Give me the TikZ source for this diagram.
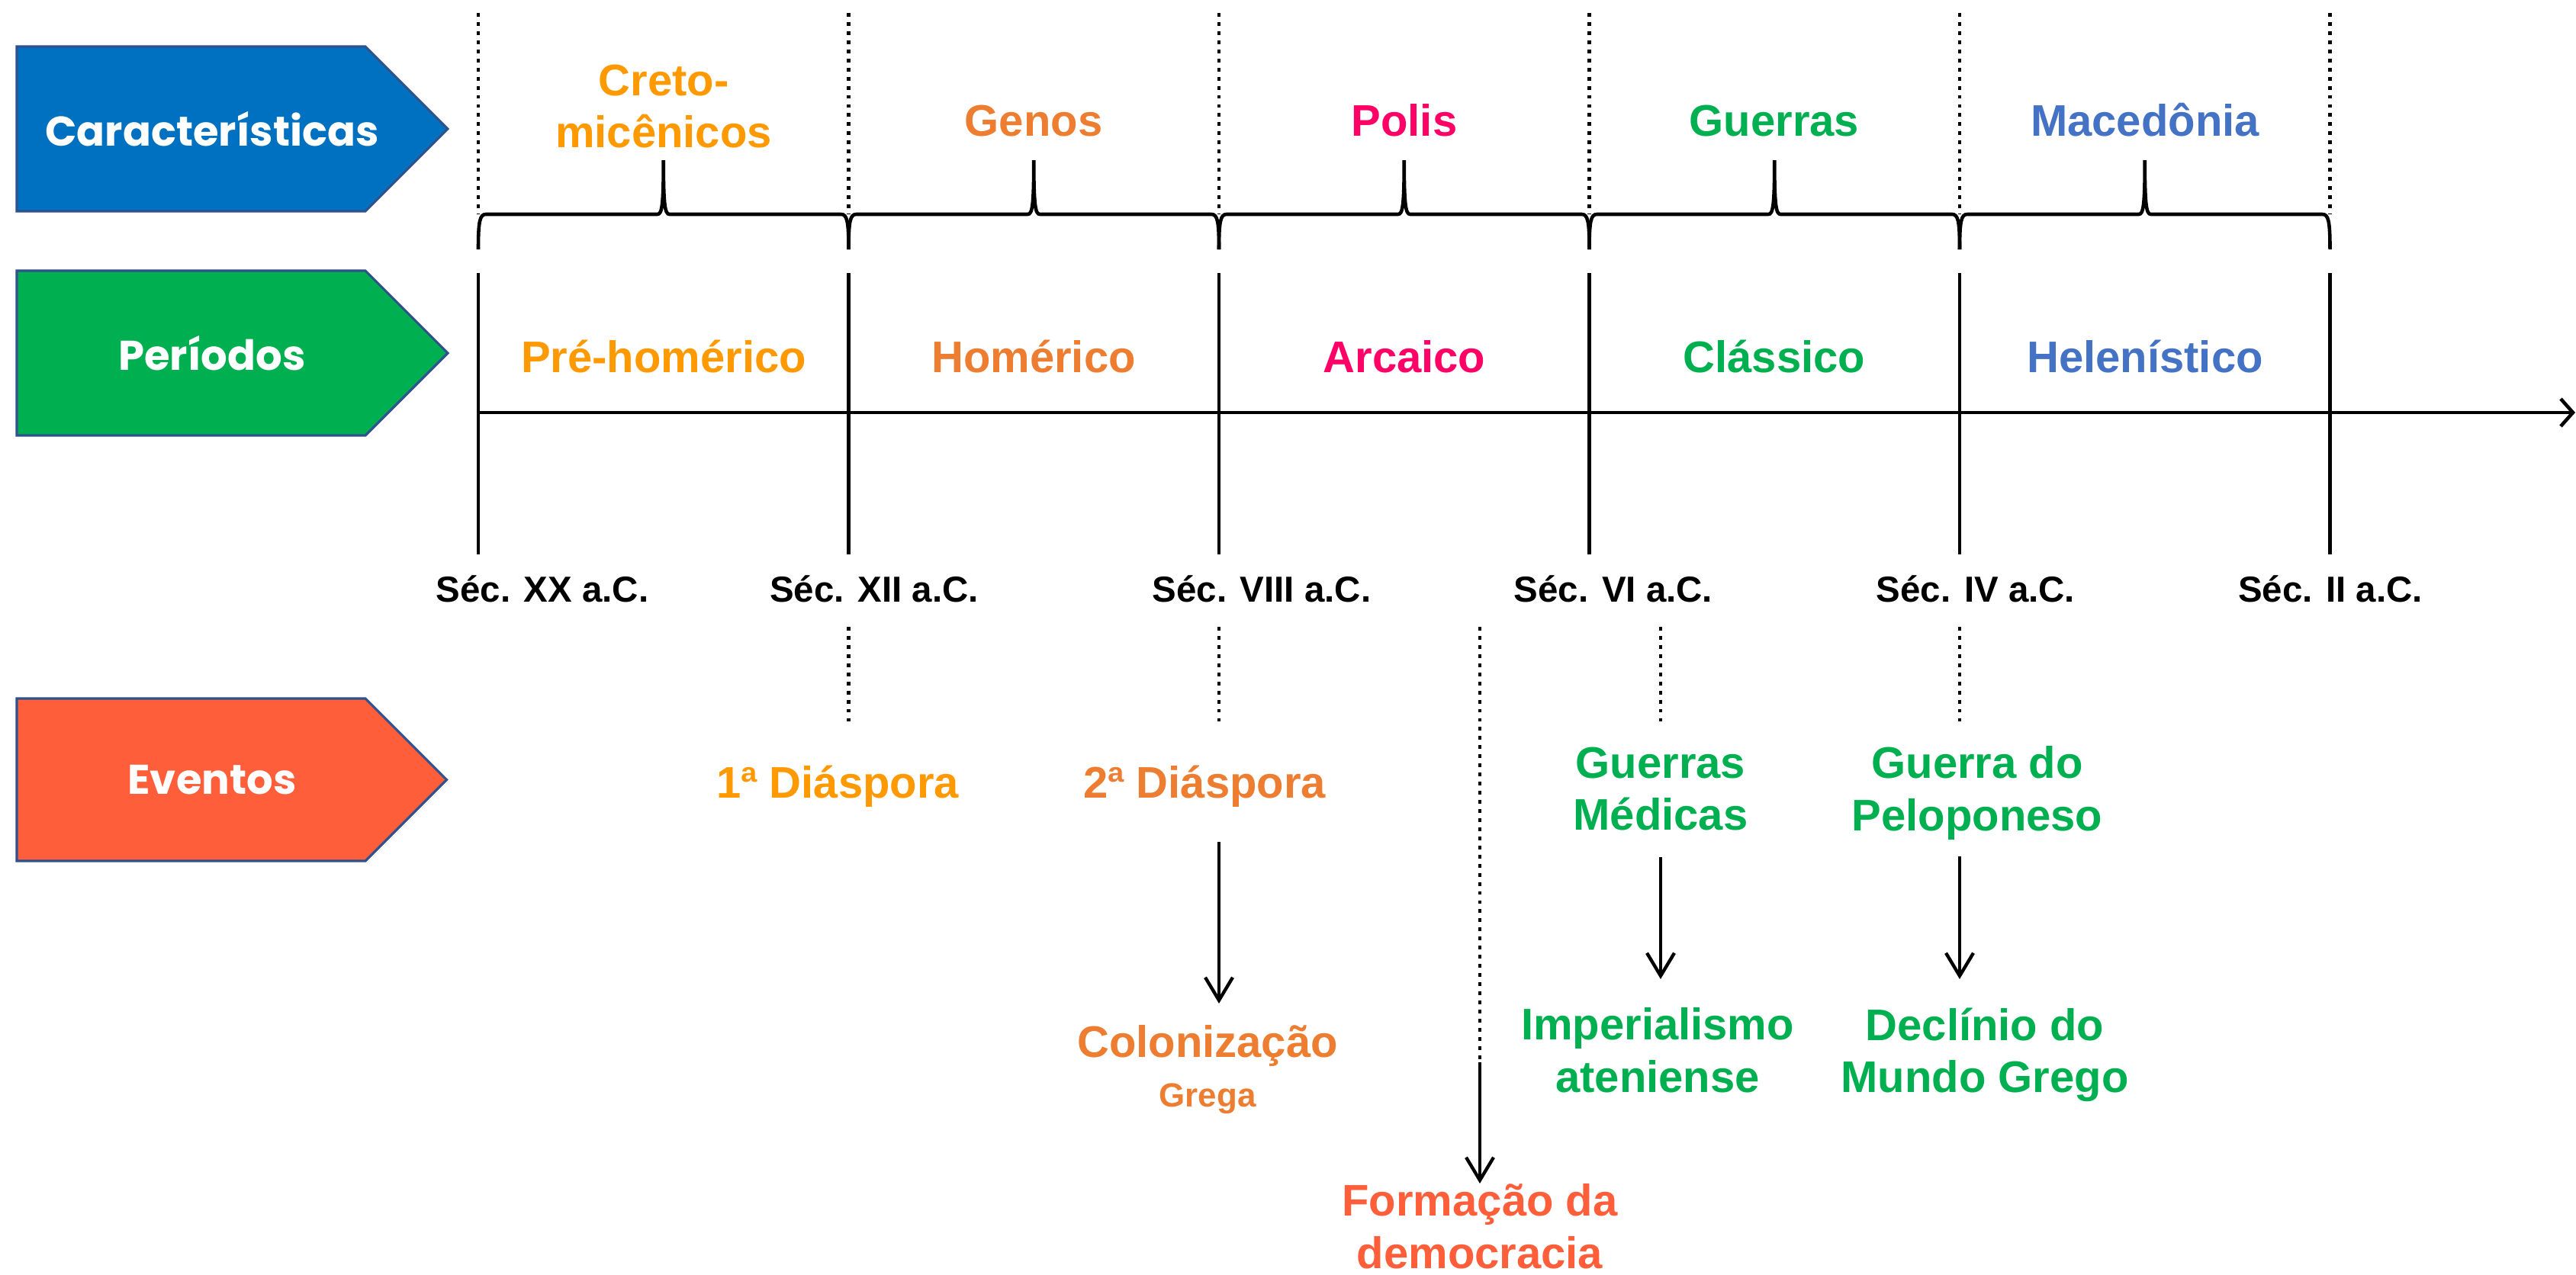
\documentclass[tikz,border=0pt]{standalone}
\usepackage{fontspec}
\setmainfont{Liberation Sans}
\newfontfamily\caixafont{Poppins}
\usetikzlibrary{arrows.meta}

\definecolor{azul}{HTML}{0070C0}
\definecolor{verde}{HTML}{00B050}
\definecolor{vermelho}{HTML}{FF5E3A}
\definecolor{borda}{HTML}{2F528F}
\definecolor{laranja}{HTML}{FF9900}
\definecolor{laranjaesc}{HTML}{ED7D31}
\definecolor{rosa}{HTML}{FF0066}
\definecolor{azulclaro}{HTML}{4472C4}

\begin{document}
\begin{tikzpicture}[
    caixa/.style={draw=borda, line width=0.9pt},
    rotulo/.style={font=\caixafont\bfseries\fontsize{15.5}{18}\selectfont, text=white, inner sep=0},
    texto/.style={font=\bfseries\fontsize{16.5}{19.5}\selectfont, inner sep=0, align=center},
    seculo/.style={font=\bfseries\fontsize{13.5}{16}\selectfont, inner sep=0},
    linha/.style={line width=1.3pt},
    pontilhado/.style={line width=1.35pt, dash pattern=on 1.4pt off 2pt},
    seta/.style={line width=1.25pt, -{Straight Barb[length=0.3cm,width=0.36cm]}}
  ]
  \useasboundingbox (0,0) rectangle (33.77,-16.71);

  % caixas da esquerda
  \foreach \nome/\cor/\topo/\base/\txt in {carac/azul/0.61/2.77/Características, per/verde/3.55/5.71/Períodos, ev/vermelho/9.16/11.29/Eventos}{
    \draw[caixa, fill=\cor] (0.22,-\topo) -- (4.79,-\topo) -- ({4.79+(\base-\topo)/2},{-(\topo+\base)/2}) -- (4.79,-\base) -- (0.22,-\base) -- cycle;
    \node[rotulo] (\nome) at (2.78,{-(\topo+\base)/2}) {\txt};
  }

  % linha do tempo
  \foreach \x [count=\i] in {6.27,11.125,15.98,20.835,25.69,30.545}{
    \coordinate (t\i) at (\x,-3.58);
    \draw[pontilhado] (\x,-0.17) -- (\x,-2.81);
    \draw[linha] (t\i) -- (\x,-7.27);
  }
  \coordinate (fim) at (33.76,-5.41);
  \draw[linha, -{Straight Barb[length=0.16cm,width=0.36cm]}] (t1 |- fim) -- (fim);

  % chaves
  \foreach \a/\b in {6.27/11.125, 11.125/15.98, 15.98/20.835, 20.835/25.69, 25.69/30.545}{
    \pgfmathsetmacro\m{(\a+\b)/2}
    \draw[linha] (\a,-3.27) .. controls (\a,-2.9) and (\a+0.02,-2.81) .. (\a+0.1,-2.81) -- (\m-0.08,-2.81)
      .. controls (\m-0.02,-2.81) and (\m,-2.7) .. (\m,-2.1) .. controls (\m,-2.7) and (\m+0.02,-2.81) .. (\m+0.08,-2.81)
      -- (\b-0.1,-2.81) .. controls (\b-0.02,-2.81) and (\b,-2.9) .. (\b,-3.27);
  }

  % caracteristicas
  \node[texto, text=laranja, anchor=north] (cretomic) at (8.70,-0.84) {Creto-\\micênicos};
  \node[texto, text=laranjaesc, anchor=base] (genos) at (13.55,-1.78) {Genos};
  \node[texto, text=rosa, anchor=base] (polis) at (18.41,-1.78) {Polis};
  \node[texto, text=verde, anchor=base] (guerras) at (23.26,-1.78) {Guerras};
  \node[texto, text=azulclaro, anchor=base] (maced) at (28.12,-1.78) {Macedônia};

  % periodos
  \node[texto, text=laranja, anchor=base] (prehom) at (8.70,-4.88) {Pré-homérico};
  \node[texto, text=laranjaesc, anchor=base] (homer) at (13.55,-4.88) {Homérico};
  \node[texto, text=rosa, anchor=base] (arcaico) at (18.41,-4.88) {Arcaico};
  \node[texto, text=verde, anchor=base] (classico) at (23.26,-4.88) {Clássico};
  \node[texto, text=azulclaro, anchor=base] (helen) at (28.12,-4.88) {Helenístico};

  % seculos
  \node[seculo, anchor=base] (secxx) at (7.11,-7.89) {Séc. XX a.C.};
  \node[seculo, anchor=base] (secxii) at (11.46,-7.89) {Séc. XII a.C.};
  \node[seculo, anchor=base] (secviii) at (16.54,-7.89) {Séc. VIII a.C.};
  \node[seculo, anchor=base] (secvi) at (21.15,-7.89) {Séc. VI a.C.};
  \node[seculo, anchor=base] (seciv) at (25.90,-7.89) {Séc. IV a.C.};
  \node[seculo, anchor=base] (secii) at (30.55,-7.89) {Séc. II a.C.};

  % eventos
  \node[texto, text=laranja, anchor=base] (dias1) at (10.98,-10.46) {1ª Diáspora};
  \node[texto, text=laranjaesc, anchor=base] (dias2) at (15.79,-10.46) {2ª Diáspora};
  \node[texto, text=laranjaesc, anchor=north] (colon) at (15.83,-13.44) {Colonização\\[-1pt]{\fontsize{12.5}{14}\selectfont Grega}};
  \node[texto, text=verde, anchor=north] (gm) at (21.77,-9.79) {Guerras\\Médicas};
  \node[texto, text=verde, anchor=north] (imp) at (21.73,-13.21) {Imperialismo\\ateniense};
  \node[texto, text=verde, anchor=north] (gp) at (25.92,-9.78) {Guerra do\\Peloponeso};
  \node[texto, text=verde, anchor=north] (decl) at (26.02,-13.21) {Declínio do\\Mundo Grego};
  \node[texto, text=vermelho, anchor=north] (form) at (19.40,-15.52) {Formação da\\democracia};

  \coordinate (ev) at (0,-8.22);
  \draw[pontilhado] (t2 |- ev) -- ++(0,-1.24);
  \draw[pontilhado] (t3 |- ev) -- ++(0,-1.24);
  \draw[pontilhado] (gm.north |- ev) -- ++(0,-1.24);
  \draw[pontilhado] (t5 |- ev) -- ++(0,-1.24);
  \coordinate (quebra) at (form.north |- 0,-13.93);
  \draw[pontilhado] (quebra |- ev) -- (quebra);

  \draw[seta, shorten <=0.45cm, shorten >=0.28cm] (t3 |- dias2.south) -- (t3 |- colon.north);
  \draw[seta, shorten <=0.34cm, shorten >=0.37cm] (gm.south) -- (gm.south |- imp.north);
  \draw[seta, shorten <=0.21cm, shorten >=0.37cm] (t5 |- gp.south) -- (t5 |- decl.north);
  \draw[seta] (quebra) -- (form.north);
\end{tikzpicture}
\end{document}
